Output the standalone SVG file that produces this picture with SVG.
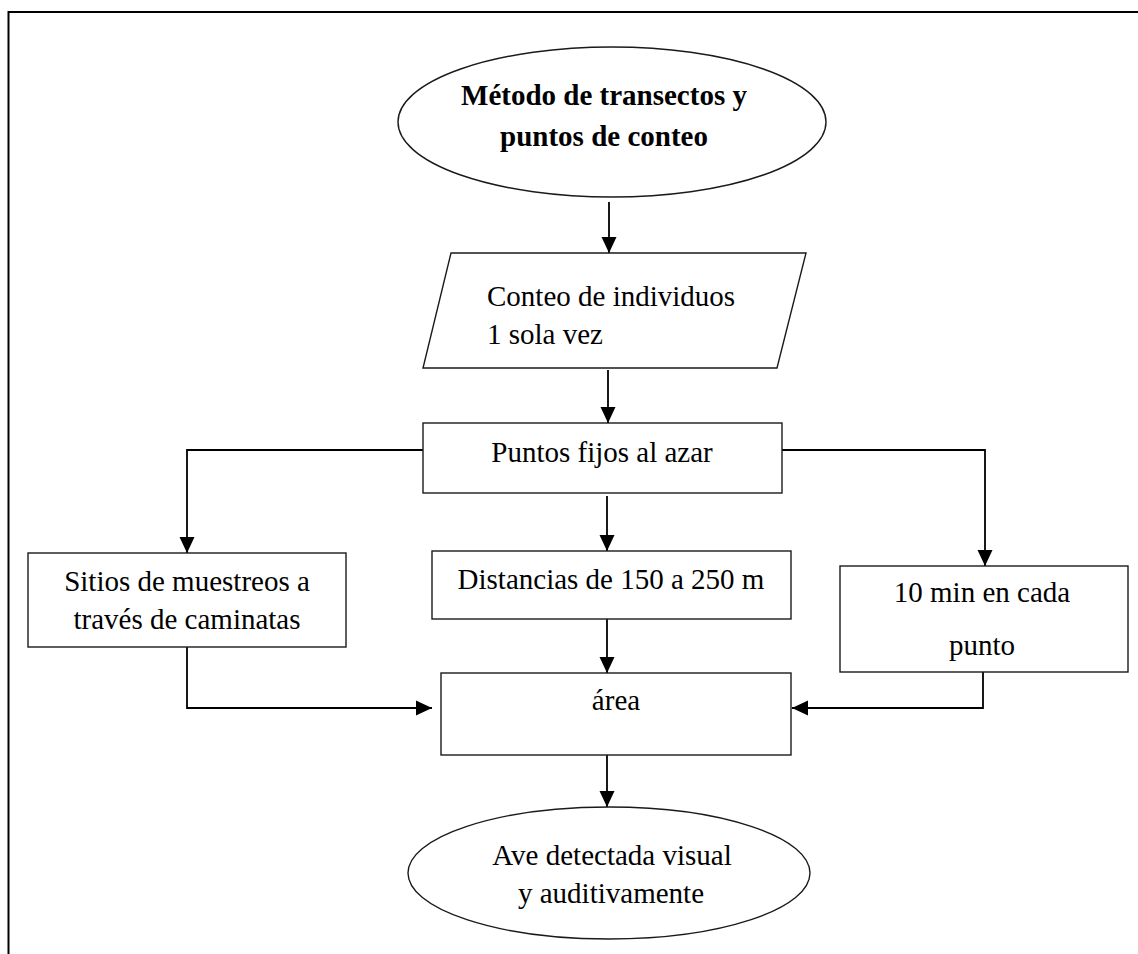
<svg xmlns="http://www.w3.org/2000/svg" width="1138" height="954" viewBox="0 0 1138 954">
<style>
.shape{fill:#fff;stroke:#1a1a1a;stroke-width:1.4}
.t{font-family:"Liberation Serif","Times New Roman",serif;font-size:29px;fill:#000}
.b{font-weight:bold}
.c{text-anchor:middle}
.conn{fill:none;stroke:#000;stroke-width:1.8}
</style>
<defs>
<marker id="ah" viewBox="0 0 16 16" refX="16" refY="8" markerWidth="16" markerHeight="16" markerUnits="userSpaceOnUse" orient="auto">
<path d="M0,0.5 L16,8 L0,15.5 Z" fill="#000"/>
</marker>
</defs>
<rect width="1138" height="954" fill="#fff"/>
<path d="M8.5,954 V12 H1138" fill="none" stroke="#000" stroke-width="2"/>
<g id="connectors">
<line class="conn" x1="609" y1="202" x2="609" y2="253" marker-end="url(#ah)"/>
<line class="conn" x1="608" y1="370" x2="608" y2="423" marker-end="url(#ah)"/>
<polyline class="conn" points="423,450 187,450 187,553" marker-end="url(#ah)"/>
<polyline class="conn" points="782,450 985,450 985,566" marker-end="url(#ah)"/>
<line class="conn" x1="607" y1="496" x2="607" y2="551" marker-end="url(#ah)"/>
<line class="conn" x1="607" y1="619" x2="607" y2="673" marker-end="url(#ah)"/>
<polyline class="conn" points="187,647 187,708 432,708" marker-end="url(#ah)"/>
<polyline class="conn" points="983,672 983,708 792,708" marker-end="url(#ah)"/>
<line class="conn" x1="607" y1="755" x2="607" y2="807" marker-end="url(#ah)"/>
</g>
<g id="start">
<ellipse class="shape" cx="612" cy="122" rx="214" ry="75"/>
<text class="t b c" x="604" y="105">Método de transectos y</text>
<text class="t b c" x="604" y="146">puntos de conteo</text>
</g>
<g id="conteo">
<polygon class="shape" points="451,253 806,253 777,368 423,368"/>
<text class="t" x="487" y="306">Conteo de individuos</text>
<text class="t" x="487" y="344">1 sola vez</text>
</g>
<g id="puntos">
<rect class="shape" x="423" y="423" width="359" height="70"/>
<text class="t c" x="602" y="462">Puntos fijos al azar</text>
</g>
<g id="sitios">
<rect class="shape" x="28" y="553" width="318" height="94"/>
<text class="t c" x="187" y="591">Sitios de muestreos a</text>
<text class="t c" x="187" y="629">través de caminatas</text>
</g>
<g id="distancias">
<rect class="shape" x="432" y="551" width="359" height="68"/>
<text class="t c" x="611" y="589">Distancias de 150 a 250 m</text>
</g>
<g id="minutos">
<rect class="shape" x="840" y="566" width="288" height="106"/>
<text class="t c" x="982" y="602">10 min en cada</text>
<text class="t c" x="982" y="655">punto</text>
</g>
<g id="area">
<rect class="shape" x="441" y="673" width="350" height="82"/>
<text class="t c" x="616" y="710">área</text>
</g>
<g id="fin">
<ellipse class="shape" cx="609" cy="873" rx="201" ry="66"/>
<text class="t c" x="612" y="865">Ave detectada visual</text>
<text class="t c" x="611" y="903">y auditivamente</text>
</g>
</svg>
